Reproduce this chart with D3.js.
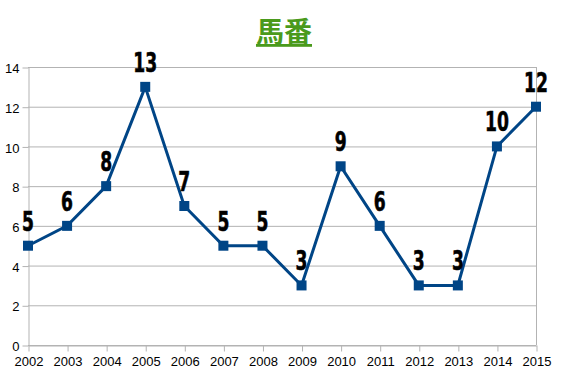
<!DOCTYPE html>
<html>
<head>
<meta charset="utf-8">
<script src="https://cdn.jsdelivr.net/npm/d3@7"></script>
<style>
  body { margin: 0; background: #fff; }
  svg { display: block; }
</style>
</head>
<body>
<svg id="chart"></svg>
<script>
const years = [2002, 2003, 2004, 2005, 2006, 2007, 2008, 2009, 2010, 2011, 2012, 2013, 2014, 2015];
const values = [5, 6, 8, 13, 7, 5, 5, 3, 9, 6, 3, 3, 10, 12];
const yTicks = [0, 2, 4, 6, 8, 10, 12, 14];
const title = "馬番";

var width = 567,
  height = 378;

var svg = d3.select("#chart").attr("width", width).attr("height", height);

var x = d3.scaleLinear().domain([2002, 2015]).range([28, 536]);
var y = d3.scaleLinear().domain([0, 14]).range([345, 67]);

// grid lines
svg
  .selectAll(".grid")
  .data(yTicks)
  .enter()
  .append("line")
  .attr("x1", 28)
  .attr("x2", 536)
  .attr("y1", (d) => y(d) + 0.5)
  .attr("y2", (d) => y(d) + 0.5)
  .style("stroke", "#b3b3b3")
  .style("stroke-width", 1);

// right border
svg
  .append("line")
  .attr("x1", 536.5)
  .attr("x2", 536.5)
  .attr("y1", y(14))
  .attr("y2", y(0))
  .style("stroke", "#b3b3b3");

// y axis
var yAxis = svg
  .append("g")
  .attr("transform", "translate(28.5,0.5)")
  .call(d3.axisLeft(y).tickValues(yTicks).tickSize(6).tickSizeOuter(0).tickPadding(3));

// x axis
var xAxis = svg
  .append("g")
  .attr("transform", "translate(0.5," + (y(0) + 0.5) + ")")
  .call(d3.axisBottom(x).tickValues(years).tickFormat(d3.format("d")).tickSize(6).tickSizeOuter(0).tickPadding(5));

[yAxis, xAxis].forEach((a) => {
  a.selectAll("path, line").style("stroke", "#b3b3b3");
  a.selectAll("text")
    .style("font-family", "'Liberation Sans', Arial, sans-serif")
    .style("font-size", "13px")
    .style("fill", "#000");
});
yAxis.selectAll("text").attr("dy", "0.4em");

var line = d3
  .line()
  .x((d, i) => x(years[i]))
  .y((d) => y(d));

svg
  .append("path")
  .datum(values)
  .attr("d", line)
  .style("fill", "none")
  .style("stroke", "#004586")
  .style("stroke-width", 3)
  .style("stroke-linejoin", "miter");

svg
  .selectAll(".marker")
  .data(values)
  .enter()
  .append("rect")
  .attr("x", (d, i) => x(years[i]) - 5)
  .attr("y", (d) => y(d) - 5)
  .attr("width", 10)
  .attr("height", 10)
  .style("fill", "#004586");

// value labels (condensed, heavy)
svg
  .selectAll(".lbl")
  .data(values)
  .enter()
  .append("text")
  .attr("transform", (d, i) => "translate(" + x(years[i]) + "," + (y(d) - 15) + ") scale(0.66,1)")
  .attr("text-anchor", "middle")
  .style("font-family", "'DejaVu Sans', sans-serif")
  .style("font-weight", "bold")
  .style("font-size", "26px")
  .style("fill", "#000")
  .style("stroke", "#000")
  .style("stroke-width", 0.6)
  .text((d) => d);

// title
svg
  .append("text")
  .attr("x", 284)
  .attr("y", 42)
  .attr("text-anchor", "middle")
  .style("font-family", "'Noto Sans CJK JP', sans-serif")
  .style("font-weight", "bold")
  .style("font-size", "28px")
  .style("fill", "#4a9a1c")
  .style("text-decoration", "underline")
  .text(title);
</script>
</body>
</html>
